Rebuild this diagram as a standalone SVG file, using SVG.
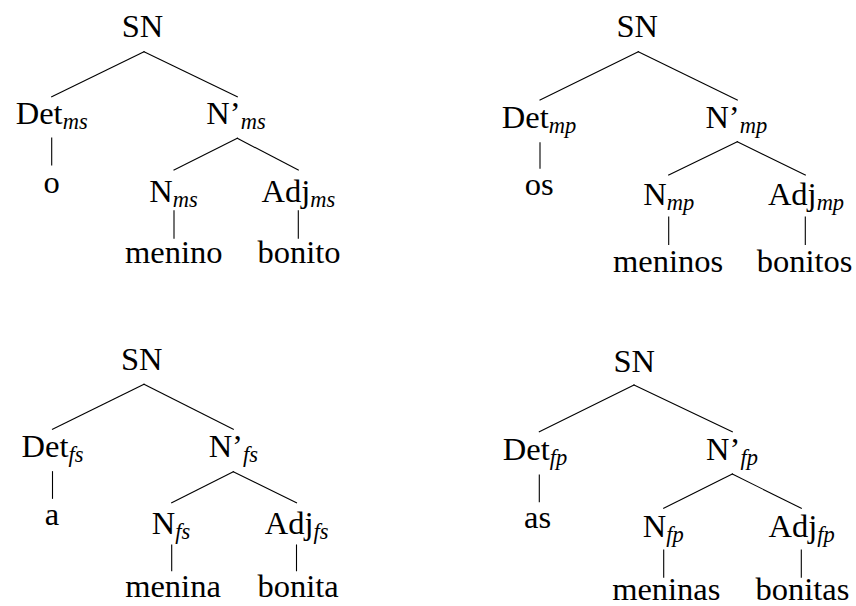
<svg xmlns="http://www.w3.org/2000/svg" width="856" height="606" viewBox="0 0 856 606">
<style>
text{font-family:'Liberation Serif','Times New Roman','DejaVu Serif',serif;font-size:32.5px;fill:#000;text-anchor:middle}
.sub{font-style:italic;font-size:22.5px}
.edges line{stroke:#000;stroke-width:1.1;stroke-linecap:square}
</style>
<rect width="856" height="606" fill="#fff"/>
<g id="connectors" class="edges">
<line x1="144" y1="51.7" x2="51.7" y2="96.7"/>
<line x1="144" y1="51.7" x2="237.3" y2="96.7"/>
<line x1="51.7" y1="138" x2="51.7" y2="165"/>
<line x1="237.3" y1="138.3" x2="174" y2="170"/>
<line x1="237.3" y1="138.3" x2="298.3" y2="170"/>
<line x1="174" y1="210.7" x2="174" y2="238.3"/>
<line x1="298.3" y1="210.7" x2="298.3" y2="238.3"/>
<line x1="638.3" y1="51.7" x2="540" y2="100"/>
<line x1="638.3" y1="51.7" x2="737.3" y2="100"/>
<line x1="540" y1="142.7" x2="540" y2="168.3"/>
<line x1="737.3" y1="141.7" x2="668.7" y2="175"/>
<line x1="737.3" y1="141.7" x2="805.3" y2="175"/>
<line x1="668.7" y1="217" x2="668.7" y2="244.5"/>
<line x1="805.3" y1="217" x2="805.3" y2="244.5"/>
<line x1="144" y1="384.3" x2="52.5" y2="429.3"/>
<line x1="144" y1="384.3" x2="233.3" y2="429.3"/>
<line x1="52.5" y1="471.7" x2="52.5" y2="498.3"/>
<line x1="233.3" y1="471.7" x2="171.7" y2="502.7"/>
<line x1="233.3" y1="471.7" x2="296.5" y2="502.7"/>
<line x1="171.7" y1="545" x2="171.7" y2="570.7"/>
<line x1="296.5" y1="545" x2="296.5" y2="570.7"/>
<line x1="634" y1="385" x2="539.3" y2="431.7"/>
<line x1="634" y1="385" x2="732.3" y2="431.7"/>
<line x1="539.3" y1="475" x2="539.3" y2="501.7"/>
<line x1="732.3" y1="474" x2="663.7" y2="508.3"/>
<line x1="732.3" y1="474" x2="801.3" y2="508.3"/>
<line x1="663.7" y1="550" x2="663.7" y2="577.3"/>
<line x1="801.3" y1="550" x2="801.3" y2="577.3"/>
</g>
<g id="t1-SN"><text x="142.5" y="37.3">SN</text></g>
<g id="t1-Det"><text x="51.7" y="123.5">Det<tspan class="sub" dy="5">ms</tspan></text></g>
<g id="t1-Nbar"><text x="236" y="123.5">N’<tspan class="sub" dy="5">ms</tspan></text></g>
<g id="t1-o"><text x="51.7" y="193">o</text></g>
<g id="t1-N"><text x="173.5" y="201.7">N<tspan class="sub" dy="5">ms</tspan></text></g>
<g id="t1-Adj"><text x="298.3" y="201.7">Adj<tspan class="sub" dy="5">ms</tspan></text></g>
<g id="t1-menino"><text x="173.8" y="263.3">menino</text></g>
<g id="t1-bonito"><text x="299" y="263.3">bonito</text></g>
<g id="t2-SN"><text x="637.3" y="36.7">SN</text></g>
<g id="t2-Det"><text x="539" y="128.3">Det<tspan class="sub" dy="5">mp</tspan></text></g>
<g id="t2-Nbar"><text x="736.3" y="128.3">N’<tspan class="sub" dy="5">mp</tspan></text></g>
<g id="t2-os"><text x="539.2" y="195">os</text></g>
<g id="t2-N"><text x="668.7" y="205">N<tspan class="sub" dy="5">mp</tspan></text></g>
<g id="t2-Adj"><text x="806" y="205">Adj<tspan class="sub" dy="5">mp</tspan></text></g>
<g id="t2-meninos"><text x="668" y="272">meninos</text></g>
<g id="t2-bonitos"><text x="804.5" y="272">bonitos</text></g>
<g id="t3-SN"><text x="141.7" y="370">SN</text></g>
<g id="t3-Det"><text x="52.5" y="456.7">Det<tspan class="sub" dy="5">fs</tspan></text></g>
<g id="t3-Nbar"><text x="233.3" y="456.7">N’<tspan class="sub" dy="5">fs</tspan></text></g>
<g id="t3-a"><text x="52" y="525">a</text></g>
<g id="t3-N"><text x="171" y="534">N<tspan class="sub" dy="5">fs</tspan></text></g>
<g id="t3-Adj"><text x="296.7" y="534">Adj<tspan class="sub" dy="5">fs</tspan></text></g>
<g id="t3-menina"><text x="173" y="596.7">menina</text></g>
<g id="t3-bonita"><text x="298" y="596.7">bonita</text></g>
<g id="t4-SN"><text x="634.3" y="371.7">SN</text></g>
<g id="t4-Det"><text x="535" y="460">Det<tspan class="sub" dy="5">fp</tspan></text></g>
<g id="t4-Nbar"><text x="732" y="460">N’<tspan class="sub" dy="5">fp</tspan></text></g>
<g id="t4-as"><text x="537.5" y="528.3">as</text></g>
<g id="t4-N"><text x="663.3" y="536.7">N<tspan class="sub" dy="5">fp</tspan></text></g>
<g id="t4-Adj"><text x="801.7" y="536.7">Adj<tspan class="sub" dy="5">fp</tspan></text></g>
<g id="t4-meninas"><text x="666.3" y="600">meninas</text></g>
<g id="t4-bonitas"><text x="802.5" y="600">bonitas</text></g>
</svg>
